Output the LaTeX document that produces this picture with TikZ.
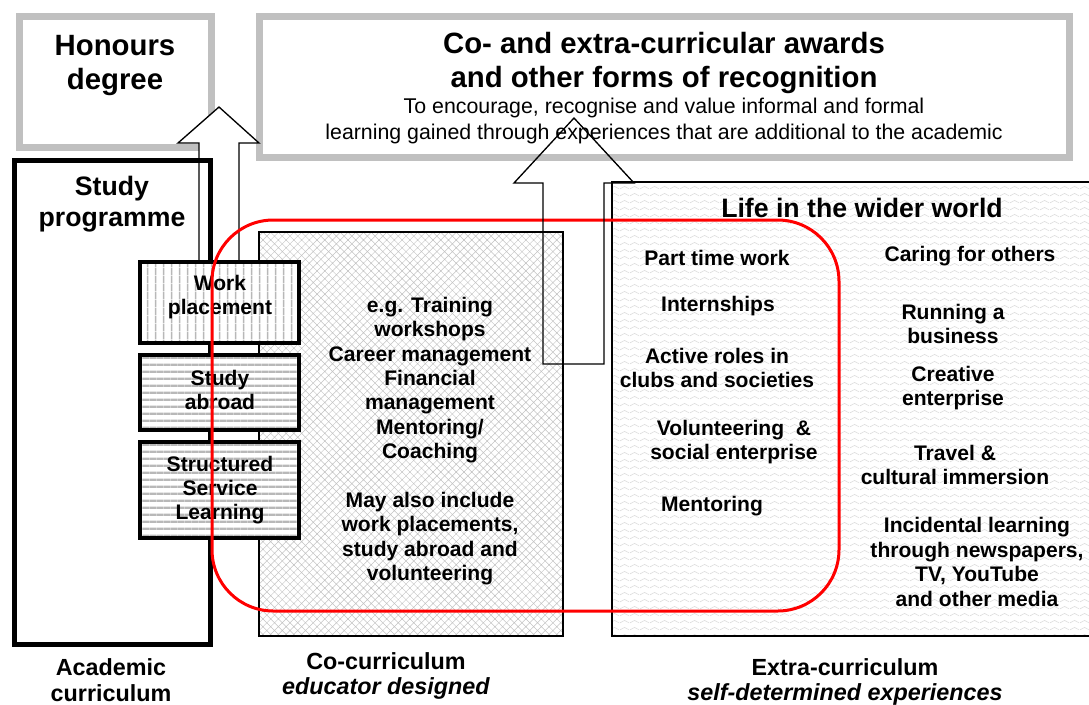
\documentclass[tikz,border=0pt]{standalone}
\usepackage{fontspec}
\setmainfont{Liberation Sans}
\usetikzlibrary{patterns}

\definecolor{frameGrey}{HTML}{C0C0C0}
\definecolor{ruleGrey}{HTML}{B8B8B8}
\definecolor{meshGrey}{HTML}{C4C4C4}
\definecolor{waveGrey}{HTML}{DCDCDC}
\definecolor{loopRed}{HTML}{FF0000}
\definecolor{ink}{HTML}{000000}

\newcommand{\FigHead}{\fontsize{22}{25.5}\selectfont\bfseries}
\newcommand{\FigTitle}{\fontsize{20}{23}\selectfont\bfseries}
\newcommand{\FigBody}{\fontsize{15.8}{18.3}\selectfont\bfseries}
\newcommand{\FigNote}{\fontsize{16}{18.8}\selectfont}
\newcommand{\FigLabel}{\fontsize{17.5}{19}\selectfont\bfseries}

% fill patterns
\pgfdeclarepatternformonly{vrules}{\pgfqpoint{0pt}{0pt}}{\pgfqpoint{5.7pt}{5.7pt}}{\pgfqpoint{5.7pt}{5.7pt}}{%
  \pgfsetlinewidth{1.3pt}%
  \pgfpathmoveto{\pgfqpoint{2.85pt}{-0.1pt}}\pgfpathlineto{\pgfqpoint{2.85pt}{5.8pt}}%
  \pgfusepath{stroke}}
\pgfdeclarepatternformonly{hrules}{\pgfqpoint{0pt}{0pt}}{\pgfqpoint{5.4pt}{5.4pt}}{\pgfqpoint{5.4pt}{5.4pt}}{%
  \pgfsetlinewidth{1.8pt}%
  \pgfpathmoveto{\pgfqpoint{-0.1pt}{2.7pt}}\pgfpathlineto{\pgfqpoint{5.5pt}{2.7pt}}%
  \pgfusepath{stroke}}
\pgfdeclarepatternformonly{diagmesh}{\pgfqpoint{-0.5pt}{-0.5pt}}{\pgfqpoint{6.3pt}{6.3pt}}{\pgfqpoint{5.8pt}{5.8pt}}{%
  \pgfsetlinewidth{0.35pt}%
  \pgfpathmoveto{\pgfqpoint{-0.3pt}{-0.3pt}}\pgfpathlineto{\pgfqpoint{6.1pt}{6.1pt}}%
  \pgfpathmoveto{\pgfqpoint{-0.3pt}{6.1pt}}\pgfpathlineto{\pgfqpoint{6.1pt}{-0.3pt}}%
  \pgfusepath{stroke}}
\pgfdeclarepatternformonly{ripple}{\pgfqpoint{0pt}{0pt}}{\pgfqpoint{7.5pt}{5.5pt}}{\pgfqpoint{7.5pt}{5.5pt}}{%
  \pgfsetlinewidth{0.5pt}%
  \pgfpathmoveto{\pgfqpoint{0pt}{1.8pt}}%
  \pgfpathcurveto{\pgfqpoint{1.9pt}{1.8pt}}{\pgfqpoint{1.9pt}{3.7pt}}{\pgfqpoint{3.75pt}{3.7pt}}%
  \pgfpathcurveto{\pgfqpoint{5.6pt}{3.7pt}}{\pgfqpoint{5.6pt}{1.8pt}}{\pgfqpoint{7.5pt}{1.8pt}}%
  \pgfusepath{stroke}}

\tikzset{
  lbl/.style={align=center, inner sep=0pt, text=ink, font=\FigBody},
  greybox/.style={draw=frameGrey, line width=5.25pt},
  strand/.style={draw=ink, line width=3pt, preaction={fill=white}, pattern color=ruleGrey},
  blockarrow/.style={draw=ink, line width=1pt, line join=miter},
}

\begin{document}
\begin{tikzpicture}[x=0.75pt,y=-0.75pt]
  \useasboundingbox (0,0) rectangle (1089,704);

  % Life in the wider world
  \fill[pattern=ripple, pattern color=waveGrey] (612,182) rectangle (1095,636);
  \draw[ink, line width=1.2pt] (1095,182) -- (612,182) -- (612,636) -- (1095,636);

  % Co-curriculum
  \fill[white] (259,232) rectangle (563,636);
  \fill[pattern=diagmesh, pattern color=meshGrey] (259,232) rectangle (563,636);
  \draw[ink, line width=1pt] (259,232) rectangle (563,636);

  % recognition boxes
  \draw[greybox] (19,16) rectangle (211,147);
  \draw[greybox] (259,16) rectangle (1069,157);

  % arrow up to the degree
  \filldraw[blockarrow, fill=white] (199,262) -- (199,143) -- (178,143) -- (219,107)
    -- (259,143) -- (239,143) -- (239,262);

  % Study programme
  \draw[ink, line width=3.75pt] (14,160) rectangle (210,644);
  \draw[strand, pattern=vrules] (140,262) rectangle (299,343);
  \draw[strand, pattern=hrules] (140,355) rectangle (299,430);
  \draw[strand, pattern=hrules] (140,442) rectangle (299,538);

  \node[lbl, font=\FigHead] (honours) at (115,66) {Honours\\degree};
  \node[lbl, font=\FigHead] (awards) at (664,63) {Co- and extra-curricular awards\\and other forms of recognition};
  \node[lbl, font=\FigNote] (awardsNote) at (664,121) {To encourage, recognise and value informal and formal\\learning gained through experiences that are additional to the academic};
  \node[lbl, font=\FigTitle] (studyProg) at (112,204) {Study\\programme};

  \node[lbl] (workPl) at (220,297) {Work\\placement};
  \node[lbl] (studyAbr) at (220,390) {Study\\abroad};
  \node[lbl] (servLearn) at (220,490) {Structured\\Service\\Learning};

  \node[lbl] (coList) at (430,441) {e.g. Training\\workshops\\Career management\\Financial\\management\\Mentoring/\\Coaching\\[18.3pt]May also include\\work placements,\\study abroad and\\volunteering};

  \node[lbl, font=\FigTitle] (lifeTitle) at (862,208) {Life in the wider world};
  \node[lbl] (partTime) at (717,258) {Part time work};
  \node[lbl] (intern) at (718,306) {Internships};
  \node[lbl] (clubs) at (717,368) {Active roles in\\clubs and societies};
  \node[lbl] (volunteer) at (734,442) {Volunteering\ \ \&\\social enterprise};
  \node[lbl] (mentoring) at (712,506) {Mentoring};
  \node[lbl] (caring) at (970,256) {Caring for others};
  \node[lbl] (business) at (953,324) {Running a\\business};
  \node[lbl] (creative) at (953,388) {Creative\\enterprise};
  \node[lbl] (travel) at (955,465) {Travel \&\\cultural immersion};
  \node[lbl] (incidental) at (977,562) {Incidental learning\\through newspapers,\\TV, YouTube\\and other media};

  \node[lbl, font=\FigLabel] (acadLbl) at (111,680) {Academic\\curriculum};
  \node[lbl, font=\FigLabel] (coLbl) at (386,676) {Co-curriculum\\\textit{educator designed}};
  \node[lbl, font=\FigLabel] (extraLbl) at (845,682) {Extra-curriculum\\\textit{self-determined experiences}};

  % overlap of co- and extra-curriculum
  \draw[loopRed, line width=2.25pt, rounded corners=46pt] (212,220) rectangle (839,611);

  % arrow up to the awards
  \draw[blockarrow] (543,364) -- (543,183) -- (514,183) -- (574,118) -- (634,183)
    -- (604,183) -- (604,364) -- cycle;
\end{tikzpicture}
\end{document}
